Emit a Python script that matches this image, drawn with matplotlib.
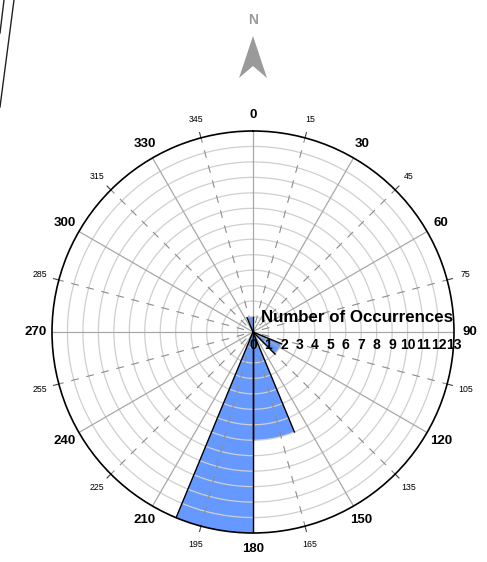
import numpy as np
import matplotlib
matplotlib.use("Agg")
import matplotlib.pyplot as plt
from matplotlib.lines import Line2D
from matplotlib.patches import Polygon
from matplotlib.transforms import offset_copy

plt.rcParams['font.family'] = ['Liberation Sans', 'DejaVu Sans']

# 16 direction bins of 22.5 degrees, starting at north, clockwise
bin_starts = [0, 22.5, 45, 67.5, 90, 112.5, 135, 157.5,
              180, 202.5, 225, 247.5, 270, 292.5, 315, 337.5]
counts = [0, 0, 0, 0, 0, 2, 0, 7, 13, 0, 0, 0, 0, 0, 0, 1]
bin_width = 22.5

major_angles = [0, 30, 60, 90, 120, 150, 180, 210, 240, 270, 300, 330]
minor_angles = [15, 45, 75, 105, 135, 165, 195, 225, 255, 285, 315, 345]
radial_ticks = list(range(0, 14))
r_max = 13

W, H = 487, 562
fig = plt.figure(figsize=(W / 100, H / 100), dpi=100)
cx, cy, R = 253, 332, 201
ax = fig.add_axes([(cx - R) / W, (H - cy - R) / H, 2 * R / W, 2 * R / H],
                  projection='polar')
ax.set_theta_zero_location('N')
ax.set_theta_direction(-1)
ax.set_ylim(0, r_max)
ax.grid(False)
ax.set_xticks([])
ax.set_yticks([])
ax.spines['polar'].set_color('black')
ax.spines['polar'].set_linewidth(1.2)
ax.spines['polar'].set_zorder(6)

# bars
theta = np.deg2rad(np.array(bin_starts) + bin_width / 2)
ax.bar(theta, counts, width=np.deg2rad(bin_width), color='#6699ff',
       edgecolor='none', zorder=2)
for start, c in zip(bin_starts, counts):
    if c > 0:
        for edge in (start, start + bin_width):
            ax.plot([np.deg2rad(edge)] * 2, [0, c], color='black', lw=1.0,
                    zorder=4)

# grid circles
t = np.linspace(0, 2 * np.pi, 400)
for r in range(1, r_max):
    ax.plot(t, np.full_like(t, r), color='#cfcfcf', lw=0.9, zorder=3)

# radial lines
for a in major_angles:
    ax.plot([np.deg2rad(a)] * 2, [0, r_max], color='#a8a8a8', lw=0.9, zorder=3)
for a in minor_angles:
    ax.plot([np.deg2rad(a)] * 2, [0.6, r_max], color='#8c8c8c', lw=0.8,
            dashes=(7, 7), zorder=3)
    ax.plot([np.deg2rad(a)] * 2, [r_max, r_max + 0.35], color='#444444',
            lw=0.8, zorder=3, clip_on=False)

# angle labels
for a in major_angles:
    ax.text(np.deg2rad(a), 14.05, str(a), ha='center', va='center',
            fontsize=9.5, fontweight='bold', clip_on=False)
for a in minor_angles:
    ax.text(np.deg2rad(a), 14.25, str(a), ha='center', va='center',
            fontsize=6.3, clip_on=False)

# radial labels along 90 degrees
tr = offset_copy(ax.transData, fig=fig, x=0, y=-9.5, units='points')
for v in radial_ticks:
    ax.text(np.pi / 2, v, str(v), transform=tr, ha='center', va='center',
            fontsize=10, fontweight='bold', zorder=7, clip_on=False)
fig.text(357 / W, 1 - 318 / H, 'Number of Occurrences', ha='center',
         va='center', fontsize=12.2, fontweight='bold', zorder=8)

# north arrow
arrow = Polygon([[253 / W, 1 - 36 / H], [239 / W, 1 - 78 / H],
                 [253 / W, 1 - 66 / H], [267 / W, 1 - 78 / H]],
                closed=True, facecolor='#9a9a9a', edgecolor='none',
                transform=fig.transFigure)
fig.patches.append(arrow)
fig.text(253 / W, 1 - 20 / H, 'N', ha='center', va='center', fontsize=10,
         fontweight='bold', color='#9a9a9a')

# stray frame lines at top-left
fig.lines.append(Line2D([4 / W, 0], [1, 1 - 33 / H], color='#222222', lw=1,
                        transform=fig.transFigure))
fig.lines.append(Line2D([14 / W, 0], [1, 1 - 107 / H], color='#222222', lw=1,
                        transform=fig.transFigure))

fig.savefig('out.png', dpi=100)
